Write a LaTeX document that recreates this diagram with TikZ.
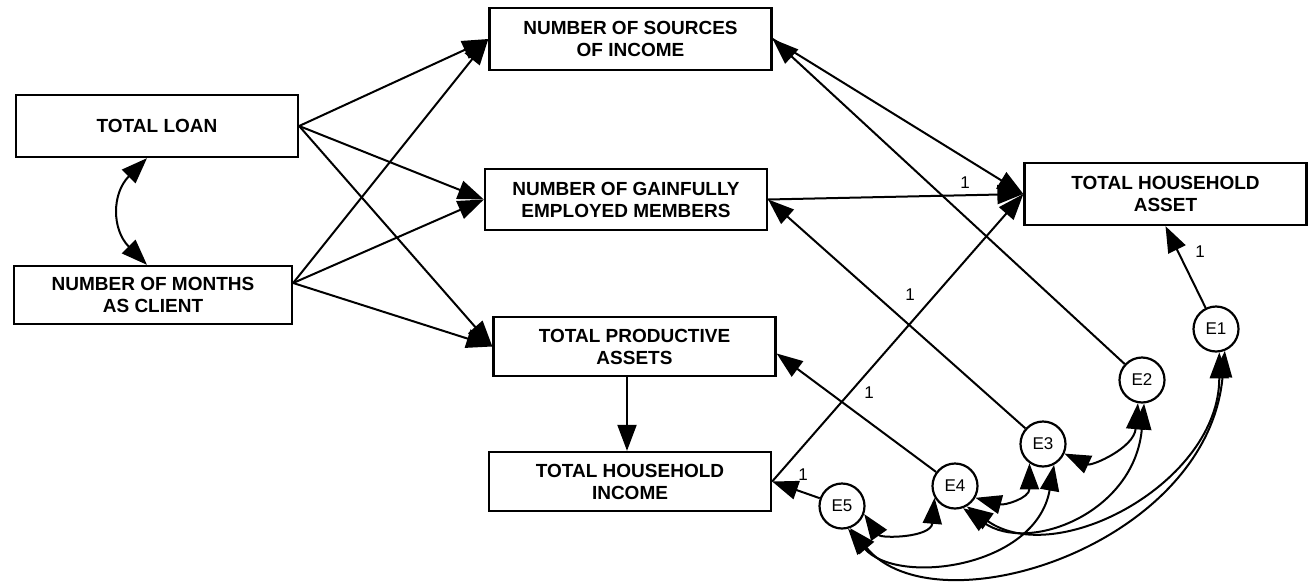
\documentclass[tikz,border=0pt]{standalone}
\usepackage{fontspec}
\setmainfont{Liberation Sans}
\usetikzlibrary{arrows.meta,calc}
\begin{document}
\begin{tikzpicture}[x=1pt,y=1pt,
  box/.style={draw,line width=2.3pt,align=center,font=\bfseries\fontsize{19}{22}\selectfont,inner sep=0pt,minimum width=282pt,minimum height=61pt},
  err/.style={draw,circle,line width=2.2pt,minimum size=45pt,inner sep=0pt,font=\fontsize{17}{19}\selectfont},
  tip/.tip={Triangle[length=26pt,width=19pt]},
  pathline/.style={line width=2pt,-tip},
  cov/.style={line width=2pt,tip-tip},
  lab/.style={font=\fontsize{17}{19}\selectfont,inner sep=0pt}]
\useasboundingbox (0,0) rectangle (1308,-581);
% observed variables
\node[box,minimum width=282pt,minimum height=62pt] (loan) at (157,-126) {TOTAL LOAN};
\node[box,minimum width=278pt,minimum height=58pt] (months) at (153,-295) {NUMBER OF MONTHS\\AS CLIENT};
\node[box,minimum height=62pt] (src) at (630.5,-39) {NUMBER OF SOURCES\\OF INCOME};
\node[box] (gain) at (626,-199.5) {NUMBER OF GAINFULLY\\EMPLOYED MEMBERS};
\node[box,minimum height=59pt] (prod) at (634.5,-346.5) {TOTAL PRODUCTIVE\\ASSETS};
\node[box,minimum height=59pt] (inc) at (630,-481.5) {TOTAL HOUSEHOLD\\INCOME};
\node[box,minimum height=62pt] (tha) at (1165.5,-194) {TOTAL HOUSEHOLD\\ASSET};
% error terms
\node[err] (E1) at (1216,-329) {E1};
\node[err] (E2) at (1142,-380) {E2};
\node[err] (E3) at (1043,-444) {E3};
\node[err] (E4) at (955,-486) {E4};
\node[err] (E5) at (842,-506) {E5};
% helper coordinates
\coordinate (ms) at ($(months.east)+(0,12)$);
\coordinate (pa) at ($(prod.south)+(-7.5,0)$);
\coordinate (pt) at ($(prod.east)+(0,-7)$);
\coordinate (lt) at ($(loan.south)+(-10,0)$);
\coordinate (mt) at ($(months.north)+(-6,0)$);
% regression paths
\draw[pathline] (loan.east) -- (src.west);
\draw[pathline] (loan.east) -- (gain.west);
\draw[pathline] (loan.east) -- (prod.west);
\draw[pathline] (ms) -- (src.west);
\draw[pathline] (ms) -- (gain.west);
\draw[pathline] (ms) -- (prod.west);
\draw[pathline] (src.east) -- (tha.west);
\draw[pathline] (gain.east) -- (tha.west);
\draw[pathline] (inc.east) -- (tha.west);
\draw[pathline] (pa) -- (pa |- inc.north);
\draw[pathline] (E1) -- (tha.south);
\draw[pathline] (E2) -- (src.east);
\draw[pathline] (E3) -- (gain.east);
\draw[pathline] (E4) -- (pt);
\draw[pathline] (E5) -- (inc.east);
% labels
\node[lab] (l1) at (965,-183) {1};
\node[lab] (l2) at (1200,-252) {1};
\node[lab] (l3) at (910,-295) {1};
\node[lab] (l4) at (869,-393) {1};
\node[lab] (l5) at (803,-475) {1};
% covariances
\draw[cov] (lt) to[out=-135,in=135,looseness=1.2] (mt);
\draw[cov] (E5.-20) to[out=-55,in=-95,out distance=30pt,in distance=40pt] (E4.-150);
\draw[cov] (E4.-30) to[out=-15,in=-90,out distance=30pt,in distance=35pt] (E3.-125);
\draw[cov] (E3.-24) to[out=-25,in=-95,out distance=30pt,in distance=45pt] (E2.-100);
\draw[cov] (E4.-70) to[out=-35,in=-95,out distance=80pt,in distance=110pt] (E2.-85);
\draw[cov] (E4.-60) to[out=-35,in=-90,out distance=110pt,in distance=130pt] (E1.-82);
\draw[cov] (E5.-75) to[out=-50,in=-100,out distance=75pt,in distance=105pt] (E3.-62);
\draw[cov] (E5.-70) to[out=-50,in=-95,out distance=135pt,in distance=195pt] (E1.-68);
\end{tikzpicture}
\end{document}
